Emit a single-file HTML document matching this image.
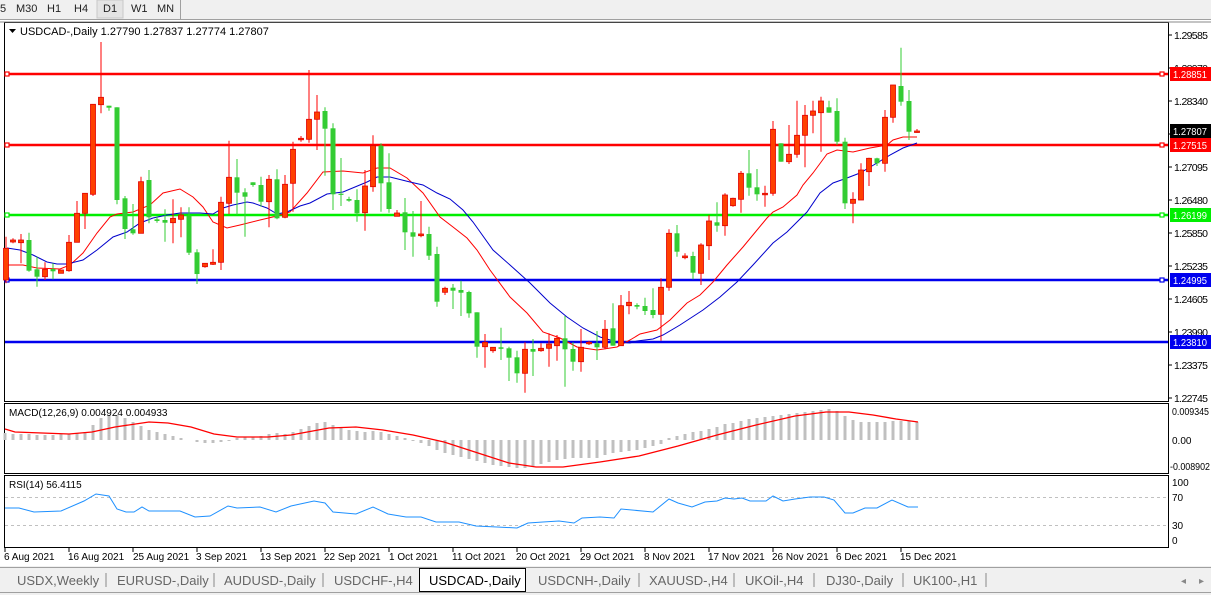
<!DOCTYPE html>
<html><head><meta charset="utf-8"><style>
html,body{margin:0;padding:0;background:#fff;width:1211px;height:595px;overflow:hidden}
svg{display:block;font-family:"Liberation Sans",sans-serif}
</style></head><body>
<svg width="1211" height="595" viewBox="0 0 1211 595" xmlns="http://www.w3.org/2000/svg">
<rect x="0" y="0" width="1211" height="595" fill="#fff"/>
<!-- toolbar -->
<rect x="0" y="0" width="1211" height="19" fill="#f0f0f0"/>
<line x1="0" y1="19.5" x2="1211" y2="19.5" stroke="#a0a0a0"/>
<rect x="97" y="0" width="26" height="18" fill="#e4e4e4" stroke="#c8c8c8"/>
<line x1="180.5" y1="0" x2="180.5" y2="19" stroke="#a0a0a0"/>
<g font-size="11" fill="#222">
<text x="0" y="12">5</text><text x="16" y="12">M30</text><text x="47" y="12">H1</text><text x="74" y="12">H4</text>
<text x="103" y="12">D1</text><text x="131" y="12">W1</text><text x="157" y="12">MN</text>
</g>
<!-- panels -->
<rect x="4.5" y="22.5" width="1164" height="379" fill="#fff" stroke="#000"/>
<rect x="4.5" y="403.5" width="1164" height="70" fill="#fff" stroke="#000"/>
<rect x="4.5" y="475.5" width="1164" height="72" fill="#fff" stroke="#000"/>
<line x1="0" y1="22" x2="1211" y2="22" stroke="#888"/>

<!-- level lines -->
<g stroke-width="2.5">
<line x1="5" y1="74" x2="1168" y2="74" stroke="#ff0000"/>
<line x1="5" y1="145" x2="1168" y2="145" stroke="#ff0000"/>
<line x1="5" y1="215" x2="1168" y2="215" stroke="#00ee00"/>
<line x1="5" y1="280" x2="1168" y2="280" stroke="#0000ee"/>
<line x1="5" y1="342" x2="1168" y2="342" stroke="#0000ee"/>
</g>
<g fill="#fff" stroke-width="1.2">
<rect x="5" y="72" width="4" height="4" stroke="#f00"/><rect x="1160" y="72" width="4" height="4" stroke="#f00"/>
<rect x="5" y="143" width="4" height="4" stroke="#f00"/><rect x="1160" y="143" width="4" height="4" stroke="#f00"/>
<rect x="5" y="213" width="4" height="4" stroke="#0e0"/><rect x="1160" y="213" width="4" height="4" stroke="#0e0"/>
<rect x="5" y="278" width="4" height="4" stroke="#00e"/><rect x="1160" y="278" width="4" height="4" stroke="#00e"/>
</g>

<!-- MAs -->
<polyline fill="none" stroke="#ff0000" stroke-width="1" points="7,265 23,265 37,268 60,269 70,265 83,253 97,233 110,217 117,214 133,212 150,205 163,193 180,189 193,197 203,207 213,222 227,228 240,225 260,220 277,216 290,212 307,193 323,172 343,171 363,173 377,168 390,168 407,178 423,193 440,217 453,227 467,238 477,250 490,270 510,297 527,313 543,332 560,338 577,347 597,350 617,347 630,340 640,334 657,330 670,320 687,303 700,295 713,282 727,265 743,247 767,218 773,212 783,207 797,195 803,185 813,173 827,154 837,150 853,152 870,148 887,145 893,140 903,137 917,137"/>
<polyline fill="none" stroke="#0000cc" stroke-width="1" points="7,248 20,250 33,255 47,262 57,264 67,264 83,260 97,250 113,237 127,232 140,223 153,218 167,215 180,213 200,213 213,214 223,208 233,205 247,202 253,203 267,208 277,214 287,212 300,206 310,203 327,194 343,192 367,182 377,177 390,177 410,182 423,185 437,193 450,199 463,210 473,222 493,250 510,265 530,283 550,303 567,317 583,328 600,337 617,342 630,343 637,341 653,339 663,335 680,325 703,310 720,297 737,282 753,265 773,243 787,232 807,212 820,193 833,183 847,178 860,173 877,163 890,155 903,148 917,143"/>

<!-- candles: wicks -->
<path fill="none" stroke="#ff0000" stroke-width="1" d="M6 236.7V283.3M13 238.3V243.3M21 234V263.3M45 262.3V280M61 270V273.3M69 235V271.7M77 201V242.3M85 193.3V229M93 104.3V196M101 42V113.3M141 176.7V233.3M173 199.3V243.3M181 207.3V237.3M205 263.3V267.7M213 249.3V265M221 196.7V270M229 140.7V214M269 175V227.3M285 175V218.3M293 141.7V211.7M301 136V141.7M309 70V142.7M317 95V150M365 170V230.7M373 135.3V191.7M397 210V216.3M421 201V237.3M445 286.7V295M485 334V367.7M493 347.3V352.7M525 342.3V392.7M541 343.3V351.7M549 333.3V366.7M557 335V360.7M581 329V371.7M589 340.7V345M605 320V349.3M621 295V345.7M629 291V314.3M661 278.3V340.7M669 229.3V290.7M685 253.3V259.3M701 243.3V285M709 215V260M725 193.3V235.7M733 197.7V206.7M741 171V212.7M765 185.7V206.7M773 121V195.7M789 125V164M797 100.7V157.7M805 105V167.3M813 100.7V133.3M821 96.7V151.7M853 192.3V223.3M861 163.3V200M869 157.7V186M885 110V171.7M893 85V122.7M917 129V132.7"/>
<path fill="none" stroke="#33cc33" stroke-width="1" d="M29 232.7V271.7M37 256.7V286.7M53 263.3V279.3M109 105.7V110.7M117 107.3V204.3M125 196V239M133 204V234.7M149 170V223.3M157 216.7V222.7M165 209.3V241.7M189 207.3V255M197 249.3V284M237 159V215M245 188.3V236.7M253 182.3V186.7M261 176.7V206.7M277 169.3V219.3M325 107.3V175.7M333 123.3V210M341 158V206M349 196.7V201.7M357 189.3V221.7M381 143.3V211.7M389 153.3V212.7M405 198V250M413 211V256.7M429 226.7V260M437 246.7V306.7M453 284V309M461 280.7V316M469 290.7V317.7M477 312.3V357.7M501 327.7V360M509 346.7V381M517 350.7V382.7M533 339V376M565 316V386.7M573 342.3V370.7M597 331V360M613 303.3V345.7M637 303.3V309.3M645 297.7V315M653 288.3V318.3M677 225V256.7M693 251.7V279.3M717 202.3V231.7M749 150V195.7M757 169V200.7M781 143.3V161.7M829 100.7V112.7M837 98.3V145M845 137.7V209M877 157.7V166M901 47.7V105.7M909 90V140"/>
<!-- red bodies -->
<g fill="#ff4000" stroke="#e00000" stroke-width="0.8">
<rect x="3.5" y="248.3" width="5" height="31.7"/><rect x="10.5" y="240" width="5" height="2"/><rect x="18.5" y="240" width="5" height="2.7"/>
<rect x="42.5" y="269.3" width="5" height="7.4"/><rect x="58.5" y="270" width="5" height="3.3"/><rect x="66.5" y="242.3" width="5" height="28.4"/>
<rect x="74.5" y="213.3" width="5" height="29"/><rect x="82.5" y="193.3" width="5" height="20"/><rect x="90.5" y="104.3" width="5" height="90"/>
<rect x="98.5" y="97.3" width="5" height="7.4"/><rect x="138.5" y="181.7" width="5" height="51.6"/><rect x="170.5" y="218.3" width="5" height="4.4"/>
<rect x="178.5" y="215" width="5" height="4.3"/><rect x="202.5" y="263.3" width="5" height="3.4"/><rect x="210.5" y="262.3" width="5" height="2"/>
<rect x="218.5" y="202.3" width="5" height="60"/><rect x="226.5" y="177.3" width="5" height="26"/><rect x="266.5" y="179.3" width="5" height="22.4"/>
<rect x="282.5" y="184.3" width="5" height="33"/><rect x="290.5" y="149.3" width="5" height="34"/><rect x="298.5" y="138.3" width="5" height="1.5"/>
<rect x="306.5" y="119.3" width="5" height="20"/><rect x="314.5" y="112" width="5" height="7.3"/><rect x="362.5" y="186" width="5" height="26.7"/>
<rect x="370.5" y="145.7" width="5" height="41"/><rect x="394.5" y="213" width="5" height="3.3"/><rect x="418.5" y="234" width="5" height="1.7"/>
<rect x="442.5" y="288.3" width="5" height="4"/><rect x="482.5" y="342.3" width="5" height="4.4"/><rect x="490.5" y="347.3" width="5" height="3.4"/>
<rect x="522.5" y="349.3" width="5" height="24"/><rect x="538.5" y="348.3" width="5" height="2.4"/><rect x="546.5" y="344" width="5" height="4.3"/>
<rect x="554.5" y="338.3" width="5" height="7.4"/><rect x="578.5" y="347.3" width="5" height="14.4"/><rect x="586.5" y="342.3" width="5" height="1.5"/>
<rect x="602.5" y="329.3" width="5" height="18"/><rect x="618.5" y="305.7" width="5" height="40"/><rect x="626.5" y="302.3" width="5" height="3.4"/>
<rect x="658.5" y="287.3" width="5" height="27"/><rect x="666.5" y="233.3" width="5" height="54"/><rect x="682.5" y="256" width="5" height="1.7"/>
<rect x="698.5" y="245" width="5" height="28.3"/><rect x="706.5" y="221" width="5" height="24.7"/><rect x="722.5" y="195" width="5" height="30.7"/>
<rect x="730.5" y="198.3" width="5" height="7.4"/><rect x="738.5" y="173.3" width="5" height="26"/><rect x="762.5" y="193.3" width="5" height="1.5"/>
<rect x="770.5" y="129.3" width="5" height="64"/><rect x="786.5" y="154.3" width="5" height="7.4"/><rect x="794.5" y="135.3" width="5" height="19"/>
<rect x="802.5" y="115.3" width="5" height="20"/><rect x="810.5" y="111" width="5" height="4.3"/><rect x="818.5" y="101" width="5" height="11.7"/>
<rect x="850.5" y="199.3" width="5" height="4"/><rect x="858.5" y="170" width="5" height="30"/><rect x="866.5" y="158.3" width="5" height="13.4"/>
<rect x="882.5" y="117.3" width="5" height="46"/><rect x="890.5" y="85" width="5" height="32.3"/><rect x="914.5" y="131" width="5" height="1.5"/>
</g>
<!-- green bodies -->
<g fill="#33cc33">
<rect x="26.5" y="240" width="5" height="30.7"/><rect x="34.5" y="269.3" width="5" height="7.4"/><rect x="50.5" y="269" width="5" height="2.3"/>
<rect x="106.5" y="105.7" width="5" height="2"/><rect x="114.5" y="107.3" width="5" height="92.7"/><rect x="122.5" y="198.3" width="5" height="30.7"/>
<rect x="130.5" y="229.3" width="5" height="4"/><rect x="146.5" y="180" width="5" height="37.3"/><rect x="154.5" y="219.3" width="5" height="1.7"/>
<rect x="162.5" y="220" width="5" height="2.7"/><rect x="186.5" y="215.7" width="5" height="37"/><rect x="194.5" y="252.3" width="5" height="21.7"/>
<rect x="234.5" y="177.3" width="5" height="15.4"/><rect x="242.5" y="192.3" width="5" height="4.4"/><rect x="250.5" y="182.3" width="5" height="2.7"/>
<rect x="258.5" y="185" width="5" height="16.7"/><rect x="274.5" y="179.3" width="5" height="39"/><rect x="322.5" y="111" width="5" height="17.7"/>
<rect x="330.5" y="128.3" width="5" height="66"/><rect x="338.5" y="193.7" width="5" height="1.2"/><rect x="346.5" y="199" width="5" height="1.7"/>
<rect x="354.5" y="200" width="5" height="13.3"/><rect x="378.5" y="145.7" width="5" height="37.6"/><rect x="386.5" y="182.3" width="5" height="26.7"/>
<rect x="402.5" y="212.3" width="5" height="20"/><rect x="410.5" y="232.3" width="5" height="4.4"/><rect x="426.5" y="234" width="5" height="21.7"/>
<rect x="434.5" y="254" width="5" height="47.7"/><rect x="450.5" y="287.7" width="5" height="3"/><rect x="458.5" y="290" width="5" height="2.7"/>
<rect x="466.5" y="292" width="5" height="21.3"/><rect x="474.5" y="312.3" width="5" height="34.4"/><rect x="498.5" y="347.3" width="5" height="1.5"/>
<rect x="506.5" y="348.3" width="5" height="9.4"/><rect x="514.5" y="357.3" width="5" height="16"/><rect x="530.5" y="349" width="5" height="2.7"/>
<rect x="562.5" y="338.3" width="5" height="11"/><rect x="570.5" y="349" width="5" height="12.7"/><rect x="594.5" y="343.3" width="5" height="4"/>
<rect x="610.5" y="328.3" width="5" height="17.4"/><rect x="634.5" y="305" width="5" height="1.7"/><rect x="642.5" y="306" width="5" height="5"/>
<rect x="650.5" y="310" width="5" height="5"/><rect x="674.5" y="233.3" width="5" height="18.4"/><rect x="690.5" y="256" width="5" height="16.7"/>
<rect x="714.5" y="222.3" width="5" height="3.4"/><rect x="746.5" y="173.3" width="5" height="14.4"/><rect x="754.5" y="187.3" width="5" height="7"/>
<rect x="778.5" y="143.3" width="5" height="18.4"/><rect x="826.5" y="107.3" width="5" height="5.4"/><rect x="834.5" y="111" width="5" height="30.7"/>
<rect x="842.5" y="141.7" width="5" height="61.6"/><rect x="874.5" y="158.3" width="5" height="5"/><rect x="898.5" y="86" width="5" height="15.7"/>
<rect x="906.5" y="101" width="5" height="30.7"/>
</g>

<!-- title -->
<path d="M9 29h7l-3.5 4z" fill="#000"/>
<text x="20" y="35" font-size="11" fill="#000">USDCAD-,Daily  1.27790 1.27837 1.27774 1.27807</text>

<!-- price axis -->
<g font-size="10.5" fill="#000" lengthAdjust="spacingAndGlyphs">
<text x="1174" y="39" textLength="34">1.29585</text><text x="1174" y="72" textLength="34">1.28970</text><text x="1174" y="105" textLength="34">1.28340</text>
<text x="1174" y="138" textLength="34">1.27725</text><text x="1174" y="171" textLength="34">1.27095</text><text x="1174" y="204" textLength="34">1.26480</text>
<text x="1174" y="237" textLength="34">1.25850</text><text x="1174" y="270" textLength="34">1.25235</text><text x="1174" y="303" textLength="34">1.24605</text>
<text x="1174" y="336" textLength="34">1.23990</text><text x="1174" y="369" textLength="34">1.23375</text><text x="1174" y="402" textLength="34">1.22745</text>
</g>
<path stroke="#000" d="M1168 35h4M1168 68h4M1168 101h4M1168 134h4M1168 167h4M1168 200h4M1168 233h4M1168 266h4M1168 299h4M1168 332h4M1168 365h4M1168 398h4"/>
<g font-size="10.5">
<rect x="1170" y="67" width="41" height="14" fill="#ff0000"/><text x="1173" y="78" fill="#fff" textLength="34" lengthAdjust="spacingAndGlyphs">1.28851</text>
<rect x="1170" y="124" width="41" height="14" fill="#000"/><text x="1173" y="135" fill="#fff" textLength="34" lengthAdjust="spacingAndGlyphs">1.27807</text>
<rect x="1170" y="138" width="41" height="14" fill="#ff0000"/><text x="1173" y="149" fill="#fff" textLength="34" lengthAdjust="spacingAndGlyphs">1.27515</text>
<rect x="1170" y="208" width="41" height="14" fill="#00ee00"/><text x="1173" y="219" fill="#fff" textLength="34" lengthAdjust="spacingAndGlyphs">1.26199</text>
<rect x="1170" y="273" width="41" height="14" fill="#0000ee"/><text x="1173" y="284" fill="#fff" textLength="34" lengthAdjust="spacingAndGlyphs">1.24995</text>
<rect x="1170" y="335" width="41" height="14" fill="#0000ee"/><text x="1173" y="346" fill="#fff" textLength="34" lengthAdjust="spacingAndGlyphs">1.23810</text>
</g>

<!-- MACD -->
<path stroke="#c0c0c0" stroke-width="3" fill="none" d="M5 440v-7M13 440v-6M21 440v-6M29 440v-6M37 440v-5M45 440v-5M53 440v-5M61 440v-6M69 440v-6M77 440v-7M85 440v-8M93 440v-15M101 440v-22M109 440v-25M117 440v-25M125 440v-22M133 440v-18M141 440v-14M149 440v-10M157 440v-8M165 440v-6M173 440v-4M181 440v-2M197 440v2M205 440v3M213 440v3M221 440v2M229 440v1M237 440v-2M245 440v-3M253 440v-3M261 440v-4M269 440v-6M277 440v-7M285 440v-6M293 440v-8M301 440v-11M309 440v-14M317 440v-17M325 440v-18M333 440v-15M341 440v-12M349 440v-10M357 440v-9M365 440v-8M373 440v-9M381 440v-8M389 440v-6M397 440v-4M405 440v-2M413 440v1M421 440v3M429 440v6M437 440v10M445 440v13M453 440v15M461 440v17M469 440v19M477 440v21M485 440v23M493 440v25M501 440v26M509 440v27M517 440v28M525 440v28M533 440v26M541 440v24M549 440v22M557 440v20M565 440v19M573 440v18M581 440v18M589 440v18M597 440v18M605 440v15M613 440v13M621 440v12M629 440v11M637 440v10M645 440v8M653 440v6M661 440v4M669 440v-2M677 440v-4M685 440v-6M693 440v-8M701 440v-9M709 440v-11M717 440v-13M725 440v-16M733 440v-17M741 440v-19M749 440v-21M757 440v-22M765 440v-23M773 440v-24M781 440v-25M789 440v-26M797 440v-27M805 440v-28M813 440v-29M821 440v-30M829 440v-31M837 440v-29M845 440v-24M853 440v-20M861 440v-18M869 440v-18M877 440v-18M885 440v-18M893 440v-19M901 440v-19M909 440v-19M917 440v-18"/>
<polyline fill="none" stroke="#ff0000" stroke-width="1.3" points="5,429 15,432 42,433 69,434 92,432 115,427 149,422 168,423 191,427 214,434 237,437 268,437 291,435 329,428 356,427 383,430 413,435 444,442 478,453 509,463 536,467 563,467 600,462 639,456 678,446 717,435 756,425 795,416 826,412 849,412 873,415 896,419 918,422"/>
<text x="9" y="416" font-size="10" fill="#000">MACD(12,26,9) 0.004924 0.004933</text>
<g font-size="10" fill="#000"><text x="1172" y="415" textLength="37" lengthAdjust="spacingAndGlyphs">0.009345</text><text x="1172" y="444">0.00</text><text x="1170" y="470" textLength="40" lengthAdjust="spacingAndGlyphs">-0.008902</text></g>

<!-- RSI -->
<line x1="5" y1="497.5" x2="1168" y2="497.5" stroke="#c0c0c0" stroke-dasharray="3,3"/>
<line x1="5" y1="525.5" x2="1168" y2="525.5" stroke="#c0c0c0" stroke-dasharray="3,3"/>
<polyline fill="none" stroke="#1e90ff" stroke-width="1" points="5,508 19,508 34,512 61,511 84,501 96,494 109,496 117,509 126,512 134,512 142,507 149,511 180,511 195,517 210,516 228,506 237,508 260,507 276,512 291,506 314,501 325,503 333,512 356,514 373,507 388,514 406,517 421,517 436,522 459,522 476,526 497,527 517,528 528,523 543,522 559,521 574,523 582,518 600,517 614,518 621,509 653,512 669,499 678,503 692,507 705,502 717,501 725,498 734,499 742,498 750,501 766,501 773,496 783,501 795,499 810,497 824,497 834,500 845,513 853,513 865,508 877,508 892,500 908,507 918,507"/>
<text x="9" y="488" font-size="10" fill="#000">RSI(14) 56.4115</text>
<g font-size="10" fill="#000"><text x="1172" y="486">100</text><text x="1172" y="501">70</text><text x="1172" y="529">30</text><text x="1172" y="544">0</text></g>

<!-- date axis -->
<g font-size="10" fill="#000">
<text x="4" y="560">6 Aug 2021</text><text x="68" y="560">16 Aug 2021</text><text x="133" y="560">25 Aug 2021</text>
<text x="196" y="560">3 Sep 2021</text><text x="260" y="560">13 Sep 2021</text><text x="324" y="560">22 Sep 2021</text>
<text x="389" y="560">1 Oct 2021</text><text x="452" y="560">11 Oct 2021</text><text x="516" y="560">20 Oct 2021</text>
<text x="580" y="560">29 Oct 2021</text><text x="644" y="560">8 Nov 2021</text><text x="708" y="560">17 Nov 2021</text>
<text x="772" y="560">26 Nov 2021</text><text x="836" y="560">6 Dec 2021</text><text x="900" y="560">15 Dec 2021</text>
</g>
<path stroke="#000" d="M5 548v4M69 548v4M133 548v4M197 548v4M261 548v4M325 548v4M389 548v4M453 548v4M517 548v4M581 548v4M645 548v4M709 548v4M773 548v4M837 548v4M901 548v4"/>

<!-- tabs -->
<rect x="0" y="566" width="1211" height="29" fill="#f0f0f0"/>
<line x1="0" y1="567.5" x2="1211" y2="567.5" stroke="#a0a0a0"/>
<line x1="0" y1="592.5" x2="1211" y2="592.5" stroke="#a0a0a0"/>
<rect x="419.5" y="568.5" width="106" height="23" fill="#fff" stroke="#000"/>
<path stroke="#888" d="M106 573v14M214 573v14M323 573v14M639 573v14M734 573v14M814 573v14M903 573v14M986 573v14"/>
<g font-size="13" fill="#666">
<text x="17" y="585">USDX,Weekly</text><text x="117" y="585">EURUSD-,Daily</text><text x="224" y="585">AUDUSD-,Daily</text>
<text x="334" y="585">USDCHF-,H4</text><text x="538" y="585">USDCNH-,Daily</text><text x="649" y="585">XAUUSD-,H4</text>
<text x="745" y="585">UKOil-,H4</text><text x="826" y="585">DJ30-,Daily</text><text x="913" y="585">UK100-,H1</text>
</g>
<text x="429" y="585" font-size="13" fill="#000">USDCAD-,Daily</text>
<text x="1181" y="584" font-size="10" fill="#888">◂</text><text x="1199" y="584" font-size="10" fill="#888">▸</text>
</svg>
</body></html>
